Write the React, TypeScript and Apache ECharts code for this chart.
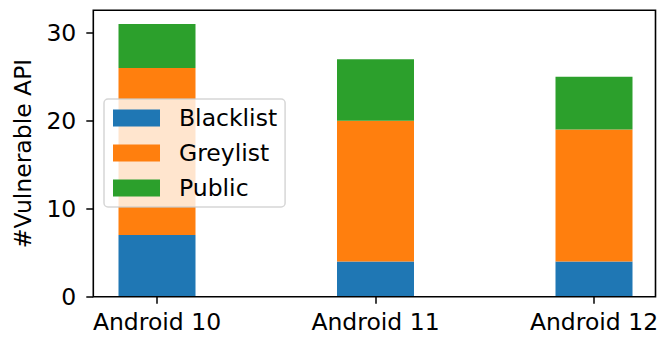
import React, { useEffect, useRef } from "react";
import * as echarts from "echarts";

const categories = ["Android 10", "Android 11", "Android 12"];
const blacklist = [7, 4, 4];
const greylist = [19, 16, 15];
const publicApi = [5, 7, 6];
const yTicks = [0, 10, 20, 30];
const yMax = 32.55;

const FONT = "DejaVu Sans";
const FS = 23.5;

export default function App() {
  const ref = useRef<HTMLDivElement>(null);
  useEffect(() => {
    if (!ref.current) return;
    const chart = echarts.init(ref.current, null, { renderer: "svg" });
    const frameLeft = 93.3;
    const frameRight = 655.5;
    const frameTop = 10.3;
    const frameBottom = 296.7;
    const gridLeft = 157;
    const gridRight = 594;
    chart.setOption({
      animation: false,
      backgroundColor: "#ffffff",
      textStyle: { fontFamily: FONT },
      grid: {
        left: gridLeft,
        right: 662 - gridRight,
        top: frameTop,
        bottom: 337 - frameBottom,
        containLabel: false,
      },
      legend: {
        orient: "vertical",
        left: 104,
        top: 99,
        icon: "rect",
        itemWidth: 47,
        itemHeight: 17,
        itemGap: 11,
        padding: [7, 8, 7, 9],
        backgroundColor: "rgba(255,255,255,0.8)",
        borderColor: "rgba(204,204,204,0.8)",
        borderWidth: 1.5,
        borderRadius: 4,
        textStyle: {
          fontFamily: FONT,
          fontSize: FS,
          color: "#000",
          lineHeight: 22,
          padding: [0, 0, 0, 14],
        },
        data: ["Blacklist", "Greylist", "Public"],
      },
      xAxis: {
        type: "category",
        data: categories,
        boundaryGap: false,
        axisLine: { show: false },
        axisTick: { show: true, length: 7, lineStyle: { color: "#000", width: 1.5 }, alignWithLabel: true },
        axisLabel: { color: "#000", fontFamily: FONT, fontSize: FS, margin: 13 },
        splitLine: { show: false },
      },
      yAxis: {
        type: "value",
        min: 0,
        max: yMax,
        offset: gridLeft - frameLeft,
        axisLine: { show: false },
        axisTick: { show: true, length: 7, lineStyle: { color: "#000", width: 1.5 }, customValues: yTicks },
        axisLabel: { color: "#000", fontFamily: FONT, fontSize: FS, margin: 17, customValues: yTicks },
        splitLine: { show: false },
        name: "#Vulnerable API",
        nameLocation: "middle",
        nameRotate: 90,
        nameGap: 56,
        nameTextStyle: { color: "#000", fontFamily: FONT, fontSize: FS },
      },
      graphic: [
        {
          type: "rect",
          z: 3,
          shape: {
            x: frameLeft,
            y: frameTop,
            width: frameRight - frameLeft,
            height: frameBottom - frameTop,
          },
          style: { fill: "none", stroke: "#000", lineWidth: 1.6 },
          silent: true,
        },
      ],
      series: [
        { name: "Blacklist", type: "bar", stack: "total", barWidth: 77, data: blacklist, itemStyle: { color: "#1f77b4" } },
        { name: "Greylist", type: "bar", stack: "total", barWidth: 77, data: greylist, itemStyle: { color: "#ff7f0e" } },
        { name: "Public", type: "bar", stack: "total", barWidth: 77, data: publicApi, itemStyle: { color: "#2ca02c" } },
      ],
    });
    return () => chart.dispose();
  }, []);
  return (
    <div
      ref={ref}
      style={{ position: "fixed", left: 0, top: 0, width: 662, height: 337, background: "#fff" }}
    />
  );
}
